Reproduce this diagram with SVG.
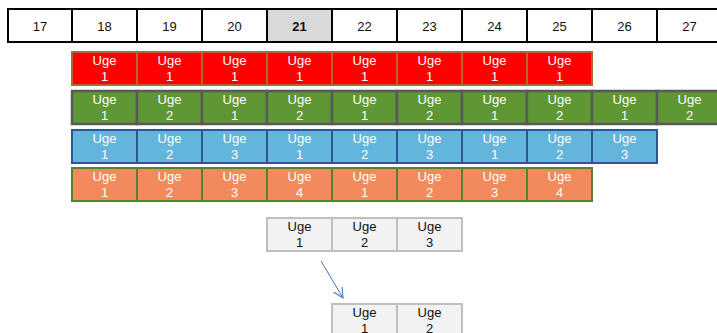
<svg xmlns="http://www.w3.org/2000/svg" width="717" height="333" viewBox="0 0 717 333">
<defs>
<style>
text{font-family:"Liberation Sans",Arial,sans-serif;font-size:13px;text-anchor:middle}
.h rect{fill:#fff;stroke:#000;stroke-width:2}
.h text{fill:#111}
.h.sel rect{fill:#d9d9d9}
.h.sel text{font-weight:bold}
.c text{fill:#fff}
.r rect{fill:#ff0000;stroke:#b5652e;stroke-width:2}
.g rect{fill:#5f9735;stroke:#595959;stroke-width:2.5}
.b rect{fill:#63b5dc;stroke:#2f5597;stroke-width:2}
.o rect{fill:#f28a5b;stroke:#538135;stroke-width:2}
.w rect{fill:#f2f2f2;stroke:#bfbfbf;stroke-width:2}
.w text{fill:#111}
</style>
<marker id="ah" markerWidth="12" markerHeight="12" refX="10" refY="5" orient="auto" markerUnits="userSpaceOnUse" viewBox="0 0 12 12">
<path d="M0,0 L10,5 L0,10" fill="none" stroke="#4472c4" stroke-width="1"/>
</marker>
</defs>
<rect width="717" height="333" fill="#fff"/>
<g id="header">
<g id="h17" class="h"><rect x="8" y="9" width="64" height="33"/><text x="40" y="31">17</text></g>
<g id="h18" class="h"><rect x="72" y="9" width="65" height="33"/><text x="104.5" y="31">18</text></g>
<g id="h19" class="h"><rect x="137" y="9" width="65" height="33"/><text x="169.5" y="31">19</text></g>
<g id="h20" class="h"><rect x="202" y="9" width="65" height="33"/><text x="234.5" y="31">20</text></g>
<g id="h21" class="h sel"><rect x="267" y="9" width="65" height="33"/><text x="299.5" y="31">21</text></g>
<g id="h22" class="h"><rect x="332" y="9" width="65" height="33"/><text x="364.5" y="31">22</text></g>
<g id="h23" class="h"><rect x="397" y="9" width="65" height="33"/><text x="429.5" y="31">23</text></g>
<g id="h24" class="h"><rect x="462" y="9" width="65" height="33"/><text x="494.5" y="31">24</text></g>
<g id="h25" class="h"><rect x="527" y="9" width="65" height="33"/><text x="559.5" y="31">25</text></g>
<g id="h26" class="h"><rect x="592" y="9" width="65" height="33"/><text x="624.5" y="31">26</text></g>
<g id="h27" class="h"><rect x="657" y="9" width="65" height="33"/><text x="689.5" y="31">27</text></g>
</g>
<g id="red">
<g id="r1" class="c r"><rect x="72" y="52" width="65" height="33"/><text x="104.5" y="65">Uge</text><text x="104.5" y="81">1</text></g>
<g id="r2" class="c r"><rect x="137" y="52" width="65" height="33"/><text x="169.5" y="65">Uge</text><text x="169.5" y="81">1</text></g>
<g id="r3" class="c r"><rect x="202" y="52" width="65" height="33"/><text x="234.5" y="65">Uge</text><text x="234.5" y="81">1</text></g>
<g id="r4" class="c r"><rect x="267" y="52" width="65" height="33"/><text x="299.5" y="65">Uge</text><text x="299.5" y="81">1</text></g>
<g id="r5" class="c r"><rect x="332" y="52" width="65" height="33"/><text x="364.5" y="65">Uge</text><text x="364.5" y="81">1</text></g>
<g id="r6" class="c r"><rect x="397" y="52" width="65" height="33"/><text x="429.5" y="65">Uge</text><text x="429.5" y="81">1</text></g>
<g id="r7" class="c r"><rect x="462" y="52" width="65" height="33"/><text x="494.5" y="65">Uge</text><text x="494.5" y="81">1</text></g>
<g id="r8" class="c r"><rect x="527" y="52" width="65" height="33"/><text x="559.5" y="65">Uge</text><text x="559.5" y="81">1</text></g>
</g>
<g id="green">
<g id="g1" class="c g"><rect x="72" y="91" width="65" height="33"/><text x="104.5" y="104">Uge</text><text x="104.5" y="120">1</text></g>
<g id="g2" class="c g"><rect x="137" y="91" width="65" height="33"/><text x="169.5" y="104">Uge</text><text x="169.5" y="120">2</text></g>
<g id="g3" class="c g"><rect x="202" y="91" width="65" height="33"/><text x="234.5" y="104">Uge</text><text x="234.5" y="120">1</text></g>
<g id="g4" class="c g"><rect x="267" y="91" width="65" height="33"/><text x="299.5" y="104">Uge</text><text x="299.5" y="120">2</text></g>
<g id="g5" class="c g"><rect x="332" y="91" width="65" height="33"/><text x="364.5" y="104">Uge</text><text x="364.5" y="120">1</text></g>
<g id="g6" class="c g"><rect x="397" y="91" width="65" height="33"/><text x="429.5" y="104">Uge</text><text x="429.5" y="120">2</text></g>
<g id="g7" class="c g"><rect x="462" y="91" width="65" height="33"/><text x="494.5" y="104">Uge</text><text x="494.5" y="120">1</text></g>
<g id="g8" class="c g"><rect x="527" y="91" width="65" height="33"/><text x="559.5" y="104">Uge</text><text x="559.5" y="120">2</text></g>
<g id="g9" class="c g"><rect x="592" y="91" width="65" height="33"/><text x="624.5" y="104">Uge</text><text x="624.5" y="120">1</text></g>
<g id="g10" class="c g"><rect x="657" y="91" width="65" height="33"/><text x="689.5" y="104">Uge</text><text x="689.5" y="120">2</text></g>
</g>
<g id="blue">
<g id="b1" class="c b"><rect x="72" y="130" width="65" height="33"/><text x="104.5" y="143">Uge</text><text x="104.5" y="159">1</text></g>
<g id="b2" class="c b"><rect x="137" y="130" width="65" height="33"/><text x="169.5" y="143">Uge</text><text x="169.5" y="159">2</text></g>
<g id="b3" class="c b"><rect x="202" y="130" width="65" height="33"/><text x="234.5" y="143">Uge</text><text x="234.5" y="159">3</text></g>
<g id="b4" class="c b"><rect x="267" y="130" width="65" height="33"/><text x="299.5" y="143">Uge</text><text x="299.5" y="159">1</text></g>
<g id="b5" class="c b"><rect x="332" y="130" width="65" height="33"/><text x="364.5" y="143">Uge</text><text x="364.5" y="159">2</text></g>
<g id="b6" class="c b"><rect x="397" y="130" width="65" height="33"/><text x="429.5" y="143">Uge</text><text x="429.5" y="159">3</text></g>
<g id="b7" class="c b"><rect x="462" y="130" width="65" height="33"/><text x="494.5" y="143">Uge</text><text x="494.5" y="159">1</text></g>
<g id="b8" class="c b"><rect x="527" y="130" width="65" height="33"/><text x="559.5" y="143">Uge</text><text x="559.5" y="159">2</text></g>
<g id="b9" class="c b"><rect x="592" y="130" width="65" height="33"/><text x="624.5" y="143">Uge</text><text x="624.5" y="159">3</text></g>
</g>
<g id="orange">
<g id="o1" class="c o"><rect x="72" y="168" width="65" height="33"/><text x="104.5" y="181">Uge</text><text x="104.5" y="197">1</text></g>
<g id="o2" class="c o"><rect x="137" y="168" width="65" height="33"/><text x="169.5" y="181">Uge</text><text x="169.5" y="197">2</text></g>
<g id="o3" class="c o"><rect x="202" y="168" width="65" height="33"/><text x="234.5" y="181">Uge</text><text x="234.5" y="197">3</text></g>
<g id="o4" class="c o"><rect x="267" y="168" width="65" height="33"/><text x="299.5" y="181">Uge</text><text x="299.5" y="197">4</text></g>
<g id="o5" class="c o"><rect x="332" y="168" width="65" height="33"/><text x="364.5" y="181">Uge</text><text x="364.5" y="197">1</text></g>
<g id="o6" class="c o"><rect x="397" y="168" width="65" height="33"/><text x="429.5" y="181">Uge</text><text x="429.5" y="197">2</text></g>
<g id="o7" class="c o"><rect x="462" y="168" width="65" height="33"/><text x="494.5" y="181">Uge</text><text x="494.5" y="197">3</text></g>
<g id="o8" class="c o"><rect x="527" y="168" width="65" height="33"/><text x="559.5" y="181">Uge</text><text x="559.5" y="197">4</text></g>
</g>
<g id="grey1">
<g id="w1" class="w"><rect x="267" y="218" width="65" height="33"/><text x="299.5" y="231">Uge</text><text x="299.5" y="247">1</text></g>
<g id="w2" class="w"><rect x="332" y="218" width="65" height="33"/><text x="364.5" y="231">Uge</text><text x="364.5" y="247">2</text></g>
<g id="w3" class="w"><rect x="397" y="218" width="65" height="33"/><text x="429.5" y="231">Uge</text><text x="429.5" y="247">3</text></g>
</g>
<g id="grey2">
<g id="x1" class="w"><rect x="332" y="304" width="65" height="33"/><text x="364.5" y="317">Uge</text><text x="364.5" y="333">1</text></g>
<g id="x2" class="w"><rect x="397" y="304" width="65" height="33"/><text x="429.5" y="317">Uge</text><text x="429.5" y="333">2</text></g>
</g>
<g id="connectors">
<line x1="321" y1="261" x2="343" y2="298" stroke="#4472c4" stroke-width="1" marker-end="url(#ah)"/>
</g>
</svg>
